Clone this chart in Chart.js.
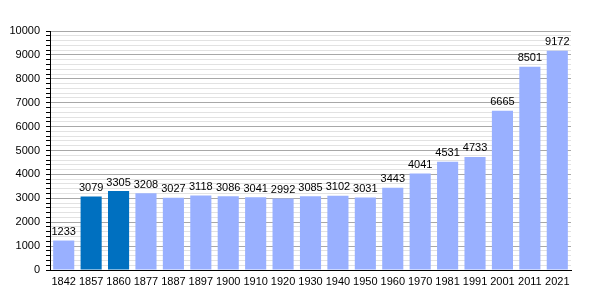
<!DOCTYPE html>
<html>
<head>
<meta charset="utf-8">
<script src="https://cdn.jsdelivr.net/npm/chart.js@4"></script>
<style>
    html, body { margin: 0; padding: 0; background: #fff; }
    #wrap { width: 600px; height: 300px; }
</style>
</head>
<body>
<div id="wrap"><canvas id="popChart"></canvas></div>
<script>
// Population by census year
const years = ['1842', '1857', '1860', '1877', '1887', '1897', '1900', '1910', '1920', '1930',
    '1940', '1950', '1960', '1970', '1981', '1991', '2001', '2011', '2021'];
const population = [1233, 3079, 3305, 3208, 3027, 3118, 3086, 3041, 2992, 3085,
    3102, 3031, 3443, 4041, 4531, 4733, 6665, 8501, 9172];
const highlightYears = ['1857', '1860'];

const lightBlue = '#99b0ff';
const darkBlue = '#0070c0';

// Value labels above each bar
const barLabels = {
    id: 'barLabels',
    afterDatasetsDraw(chart) {
        const ctx = chart.ctx;
        const meta = chart.getDatasetMeta(0);
        ctx.save();
        ctx.font = '11px "Liberation Sans", Arial, sans-serif';
        ctx.fillStyle = '#000';
        ctx.textAlign = 'center';
        ctx.textBaseline = 'bottom';
        meta.data.forEach((bar, i) => {
            ctx.fillText(String(population[i]), bar.x, bar.y - 3);
        });
        ctx.restore();
    }
};

new Chart(document.getElementById('popChart'), {
    type: 'bar',
    data: {
        labels: years,
        datasets: [{
            data: population,
            backgroundColor: years.map(y => highlightYears.includes(y) ? darkBlue : lightBlue),
            borderWidth: 0,
            barPercentage: 0.77,
            categoryPercentage: 1
        }]
    },
    options: {
        responsive: true,
        maintainAspectRatio: false,
        animation: false,
        layout: { padding: { left: 0, right: 29, top: 31, bottom: 0 } },
        plugins: {
            legend: { display: false },
            tooltip: { enabled: false }
        },
        scales: {
            x: {
                grid: { display: false, drawTicks: false },
                border: { color: '#000', width: 1 },
                ticks: {
                    color: '#000',
                    font: { family: '"Liberation Sans", Arial, sans-serif', size: 11 },
                    padding: 5,
                    maxRotation: 0,
                    autoSkip: false
                },
                afterFit(scale) { scale.height = 30; }
            },
            y: {
                min: 0,
                max: 10000,
                border: { color: '#000', width: 1 },
                grid: {
                    color: c => (c.tick && c.tick.value % 1000 === 0) ? '#a8a8a8' : '#e2e2e2',
                    tickColor: '#000',
                    tickLength: 4
                },
                ticks: {
                    stepSize: 200,
                    autoSkip: false,
                    color: '#000',
                    font: { family: '"Liberation Sans", Arial, sans-serif', size: 11 },
                    padding: 6,
                    callback: v => (v % 1000 === 0 ? String(v) : '')
                },
                afterFit(scale) { scale.width = 50; }
            }
        }
    },
    plugins: [barLabels]
});
</script>
</body>
</html>
